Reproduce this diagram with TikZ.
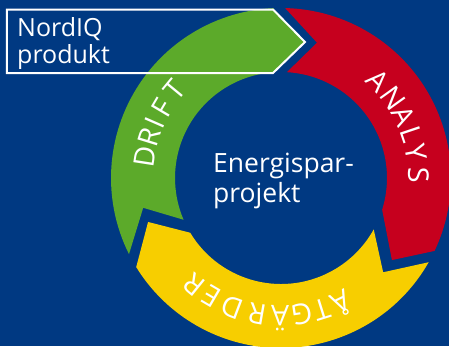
\documentclass[tikz,border=0pt]{standalone}
\usepackage{fontspec}
\setmainfont{Open Sans}
\definecolor{bgblue}{RGB}{0,57,130}
\definecolor{cgreen}{RGB}{92,170,42}
\definecolor{cred}{RGB}{198,0,30}
\definecolor{cyellow}{RGB}{247,206,0}
\begin{document}
\begin{tikzpicture}[x=1pt,y=1pt,
  lbl/.style={text=white,inner sep=0pt,anchor=base west,font=\fontsize{25}{25}\selectfont},
  ctr/.style={text=white,inner sep=0pt,anchor=base west,font=\fontsize{26.5}{26.5}\selectfont},
  arcl/.style={text=white,inner sep=0pt,anchor=base,font=\fontsize{28.5}{28.5}\selectfont}]
\useasboundingbox (-281,-168) rectangle (168,178);
\clip (-281,-168) rectangle (168,178);
\fill[bgblue] (-281,-168) rectangle (168,178);
% green arrow (DRIFT)
\fill[cgreen] (206.6:170) arc[start angle=206.6,end angle=92.7,radius=170] -- (24,136) -- (94.3:106)
  arc[start angle=94.3,end angle=203.2,radius=106] -- (192.2:141) -- cycle;
% red arrow (ANALYS)
\fill[cred] (88.6:170) arc[start angle=88.6,end angle=-25.4,radius=170] -- (-36.5:138) -- (-17.4:106)
  arc[start angle=-17.4,end angle=86.8,radius=106] -- (75.1:140) -- cycle;
% yellow arrow (ATGARDER)
\fill[cyellow] (-29.7:170) arc[start angle=-29.7,end angle=-148.4,radius=170] -- (198.3:140) -- (-148.9:106)
  arc[start angle=-148.9,end angle=-29,radius=106] -- (-42.7:139) -- cycle;
% curved labels, letter by letter
\foreach \ch/\a [count=\i] in {D/171.2,R/162.9,I/156.4,F/149.4,T/140.4}
  \node[arcl,rotate=\a-90] (drift\i) at (\a:127.5) {\ch};
\foreach \ch/\a [count=\i] in {A/45,N/35.6,A/26.6,L/18.6,Y/10.6,S/1}
  \node[arcl,rotate=\a-90] (analys\i) at (\a:127.5) {\ch};
\foreach \ch/\a [count=\i] in {Å/296,T/287.4,G/278.7,Ä/269.6,R/260,D/249.4,E/239.6,R/230.9}
  \node[arcl,rotate=\a-90] (atg\i) at (\a:127.5) {\ch};
% NordIQ box
\draw[white,line width=2pt] (-274,168.5) -- (-8,168.5) -- (24,136) -- (-8,105) -- (-274,105) -- cycle;
\node[lbl] (nord) at (-264,142) {NordIQ};
\node[lbl] (prod) at (-264,115) {produkt};
% centre text
\node[ctr] (c1) at (-68,6) {Energispar-};
\node[ctr] (c2) at (-68,-24) {projekt};
\end{tikzpicture}
\end{document}
